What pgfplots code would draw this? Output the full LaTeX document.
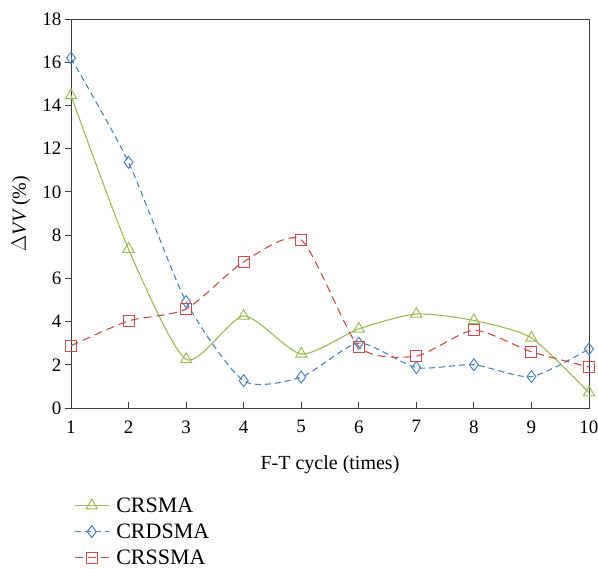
\documentclass[border=0pt]{standalone}
\usepackage{fontspec}
\setmainfont{Liberation Serif}
\usepackage{pgfplots}
\pgfplotsset{compat=1.18}
\usepackage{pgfplotstable}

\definecolor{cgreen}{RGB}{155,187,89}
\definecolor{cblue}{RGB}{79,129,189}
\definecolor{cred}{RGB}{192,80,77}
\definecolor{caxis}{RGB}{60,60,60}

% cycle  CRSMA  CRDSMA  CRSSMA
\pgfplotstableread{
x  crsma  crdsma  crssma
1  14.46  16.19   2.88
2  7.35   11.37   4.03
3  2.25   4.92    4.58
4  4.26   1.26    6.76
5  2.50   1.43    7.78
6  3.66   3.00    2.84
7  4.35   1.87    2.40
8  4.05   2.00    3.60
9  3.24   1.45    2.60
10 0.71   2.73    1.90
}\datatable

\begin{document}
\begin{tikzpicture}
\path[use as bounding box] (-71pt,-161pt) rectangle (527pt,408pt);
\begin{axis}[
  scale only axis,
  width=518pt, height=389pt,
  anchor=south west, at={(0pt,0pt)},
  xmin=1, xmax=10, ymin=0, ymax=18,
  xtick={1,...,10}, ytick={0,2,...,18},
  axis line style={caxis, line width=0.9pt},
  xtick align=inside, ytick align=outside,
  xtick pos=bottom, ytick pos=left,
  major tick length=6pt,
  tick style={caxis, line width=0.9pt},
  /pgf/number format/assume math mode=true,
  tick label style={font=\fontsize{19}{22}\selectfont},
  label style={font=\fontsize{20}{24}\selectfont},
  xlabel={F-T cycle (times)},
  ylabel={$\Delta\mathit{VV}$ (\%)},
  xticklabel style={anchor=north, yshift=-9pt},
  xlabel style={at={(axis description cs:0.5,0)}, anchor=center, yshift=-57pt},
  ylabel style={at={(axis description cs:0,0.5)}, anchor=center, xshift=0pt, yshift=50pt},
  legend cell align=left,
  legend style={draw=none, fill=none, at={(axis description cs:0.0,-0.222)}, anchor=north west,
    font=\fontsize{22}{26}\selectfont, row sep=8pt,
    /tikz/every even column/.append style={column sep=0pt},
    /tikz/every odd column/.append style={column sep=0pt},
    nodes={inner xsep=7pt, inner ysep=1pt}},
  legend image code/.code={
    \draw[mark repeat=2,mark phase=2] plot coordinates {(0pt,0pt) (17pt,0pt) (34pt,0pt)};
  },
  every axis plot/.append style={line width=1.1pt, smooth, tension=0.4},
]
\addplot[cgreen, mark=triangle, mark size=6.5pt, mark options={solid, line width=1pt, fill=white}] table[x=x, y=crsma] {\datatable};
\addlegendentry{CRSMA}
\addplot[cblue, dash pattern=on 6pt off 4pt, mark=diamond, mark size=6pt, mark options={solid, line width=1pt, fill=none}] table[x=x, y=crdsma] {\datatable};
\addlegendentry{CRDSMA}
\addplot[cred, dash pattern=on 8pt off 5pt, mark=square, mark size=5.5pt, mark options={solid, line width=1pt, fill=none}] table[x=x, y=crssma] {\datatable};
\addlegendentry{CRSSMA}
\end{axis}
\end{tikzpicture}
\end{document}
